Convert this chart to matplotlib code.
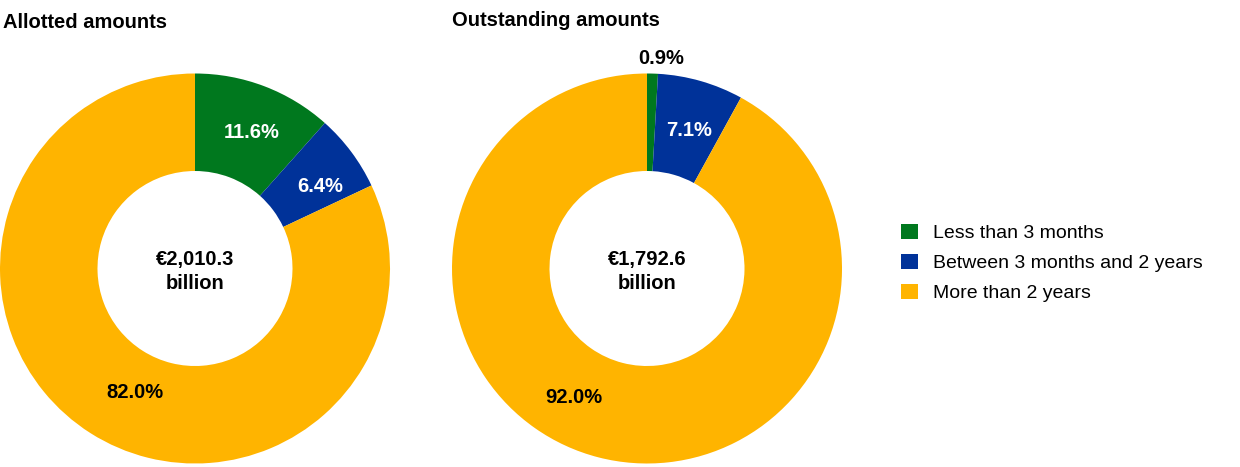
import matplotlib
matplotlib.use("Agg")
import matplotlib.pyplot as plt
from matplotlib.patches import Patch

plt.rcParams['font.family'] = ['Liberation Sans', 'DejaVu Sans']

categories = ["Less than 3 months", "Between 3 months and 2 years", "More than 2 years"]
colors = ["#00781E", "#003299", "#FFB400"]

allotted = [11.6, 6.4, 82.0]
outstanding = [0.9, 7.1, 92.0]
totals = ["€2,010.3\nbillion", "€1,792.6\nbillion"]
titles = ["Allotted amounts", "Outstanding amounts"]

# label positions (data coords, radius-1 pie) and colours
label_pos = [
    [(0.292, 0.697), (0.641, 0.421), (-0.308, -0.636)],
    [(0.072, 1.077), (0.215, 0.708), (-0.374, -0.662)],
]
label_colors = [["white", "white", "black"], ["black", "white", "black"]]

W, H = 1240, 467
fig = plt.figure(figsize=(W / 100, H / 100), dpi=100)

centers = [(195, 268.5), (647, 268.5)]
R = 195
title_xy = [(3, 22), (452, 20)]
FS = 14.5

for i, (vals, (cx, cy)) in enumerate(zip([allotted, outstanding], centers)):
    ax = fig.add_axes([(cx - R) / W, (H - cy - R) / H, 2 * R / W, 2 * R / H])
    ax.pie(vals, colors=colors, startangle=90, counterclock=False, radius=1,
           wedgeprops=dict(width=0.5, edgecolor='none'))
    ax.set_xlim(-1, 1)
    ax.set_ylim(-1, 1)
    ax.set_aspect('equal')
    ax.axis('off')
    for v, (lx, ly), c in zip(vals, label_pos[i], label_colors[i]):
        ax.text(lx, ly, f"{v:.1f}%", ha='center', va='center', fontsize=FS,
                fontweight='bold', color=c, clip_on=False)
    ax.text(0, -0.015, totals[i], ha='center', va='center', fontsize=FS,
            fontweight='bold', color='black', linespacing=1.35)
    tx, ty = title_xy[i]
    fig.text(tx / W, 1 - ty / H, titles[i], ha='left', va='center',
             fontsize=FS, fontweight='bold')

handles = [Patch(facecolor=c, edgecolor='none') for c in colors]
fig.legend(handles, categories, loc='upper left',
           bbox_to_anchor=(901 / W, 1 - 224 / H), frameon=False,
           fontsize=14, handlelength=0.85, handleheight=0.8,
           handletextpad=0.8, labelspacing=0.6, borderaxespad=0,
           borderpad=0)

fig.savefig("out.png", dpi=100)
